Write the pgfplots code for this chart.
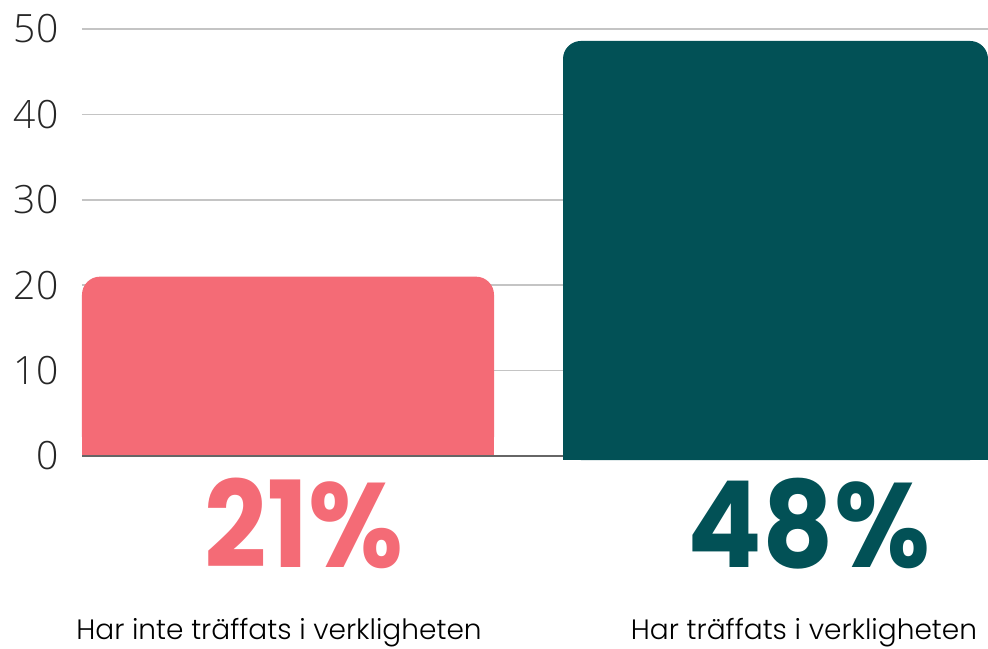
\documentclass[border=0pt]{standalone}
\usepackage{fontspec}
\setmainfont{Open Sans}
\newfontfamily\ticklight{Open Sans Light}
\newfontfamily\labfont{Poppins Light}
\newfontfamily\bigfont{Poppins Bold}
\usepackage{pgfplots}
\pgfplotsset{compat=1.18}
\definecolor{barpink}{HTML}{F46B76}
\definecolor{barteal}{HTML}{025156}
\definecolor{gridgray}{HTML}{C4C4C4}
\definecolor{basegray}{HTML}{666666}

\begin{document}
\begin{tikzpicture}
\begin{axis}[
    name=ax,
    scale only axis,
    width=906pt, height=427pt,
    xmin=0, xmax=906, ymin=0, ymax=50,
    axis line style={draw=none},
    xtick=\empty,
    ytick={10,20,30,40,50},
    extra y ticks={0},
    extra y tick style={grid style={basegray, line width=2pt}},
    ymajorgrids,
    grid style={gridgray, line width=1.5pt},
    major tick length=0pt,
    /pgf/number format/assume math mode=true,
    yticklabel style={font=\ticklight\fontsize{39}{39}\selectfont, text=black!85, xshift=-20pt},
    clip=false,
]
% pink bar: rounded top, square bottom
\addplot[fill=barpink, draw=none, rounded corners=18pt] coordinates {(0,0.12) (0,21) (412,21) (412,0.12)} --cycle;
\addplot[fill=barpink, draw=none] coordinates {(0,0.12) (0,10) (412,10) (412,0.12)} --cycle;
% teal bar
\addplot[fill=barteal, draw=none, rounded corners=18pt] coordinates {(481,-0.47) (481,48.6) (906,48.6) (906,-0.47)} --cycle;
\addplot[fill=barteal, draw=none] coordinates {(481,-0.47) (481,10) (906,10) (906,-0.47)} --cycle;

\node[font=\bigfont\fontsize{120}{120}\selectfont, text=barpink, anchor=base] at (axis cs:222,-13.1) {\scalebox{0.91}[1]{21\%}};
\node[font=\bigfont\fontsize{120}{120}\selectfont, text=barteal, anchor=base] at (axis cs:727,-13.1) {\scalebox{0.92}[1]{48\%}};
\node[font=\labfont\fontsize{28}{28}\selectfont, anchor=base] at (axis cs:197,-21.5) {Har inte träffats i verkligheten};
\node[font=\labfont\fontsize{28}{28}\selectfont, anchor=base] at (axis cs:722,-21.5) {Har träffats i verkligheten};
\end{axis}
\pgfresetboundingbox
\path ([shift={(-82pt,29pt)}]ax.north west) rectangle ([yshift=-193pt]ax.south east);
\end{tikzpicture}
\end{document}
